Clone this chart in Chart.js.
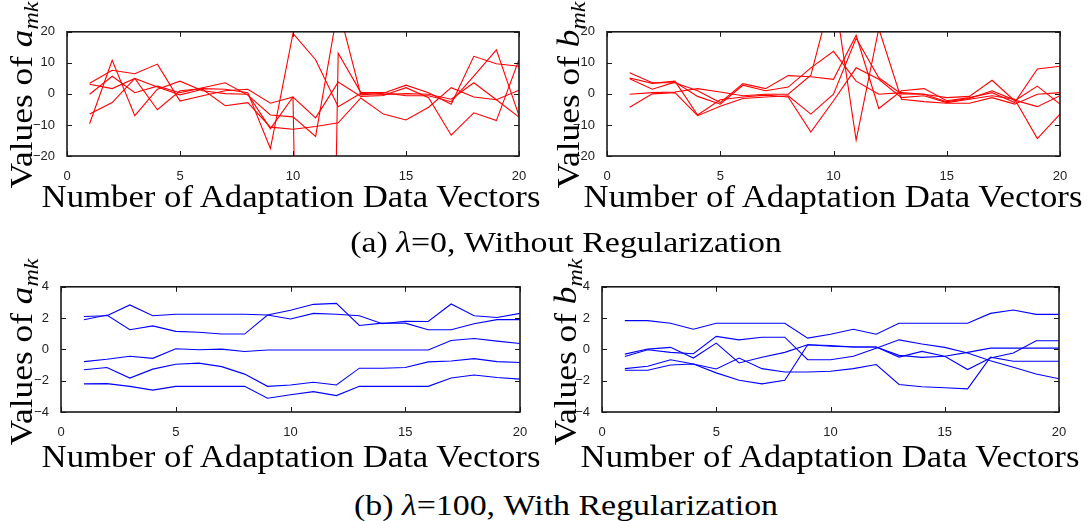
<!DOCTYPE html>
<html>
<head>
<meta charset="utf-8">
<script src="https://cdn.jsdelivr.net/npm/chart.js@4.4.0/dist/chart.umd.min.js"></script>
<style>
  body { margin: 0; background: #fff; width: 1090px; height: 521px; position: relative; overflow: hidden; }
  canvas { position: absolute; }
  .txt { position: absolute; font-family: "Liberation Serif", "Times New Roman", serif; white-space: nowrap; color: #000; line-height: 1; }
  .ytitle { font-size: 31px; transform: translate(-50%, -50%) rotate(-90deg) scale(1.14, 1); }
  .xtitle { font-size: 31px; transform: translate(-50%, -50%) scale(1.12, 1); }
  .caption { font-size: 30px; transform: translate(-50%, -50%) scale(1.13, 1); }
  sub { font-size: 0.68em; vertical-align: -0.3em; line-height: 0; }
</style>
</head>
<body>
<canvas id="aFree"></canvas>
<canvas id="bFree"></canvas>
<canvas id="aReg"></canvas>
<canvas id="bReg"></canvas>

<div class="txt ytitle" style="left:21px; top:95px">Values of <i>a</i><sub><i>mk</i></sub></div>
<div class="txt ytitle" style="left:568px; top:95px">Values of <i>b</i><sub><i>mk</i></sub></div>
<div class="txt ytitle" style="left:21px; top:352px">Values of <i>a</i><sub><i>mk</i></sub></div>
<div class="txt ytitle" style="left:565px; top:352px">Values of <i>b</i><sub><i>mk</i></sub></div>

<div class="txt xtitle" style="left:291px; top:196px">Number of Adaptation Data Vectors</div>
<div class="txt xtitle" style="left:833px; top:196px">Number of Adaptation Data Vectors</div>
<div class="txt xtitle" style="left:291px; top:456px">Number of Adaptation Data Vectors</div>
<div class="txt xtitle" style="left:830px; top:456px">Number of Adaptation Data Vectors</div>

<div class="txt caption" style="left:566px; top:242px">(a) <i>λ</i>=0, Without Regularization</div>
<div class="txt caption" style="left:566px; top:505px">(b) <i>λ</i>=100, With Regularization</div>

<script>
// x axis: number of adaptation data vectors
const vectors = [1, 2, 3, 4, 5, 6, 7, 8, 9, 10, 11, 12, 13, 14, 15, 16, 17, 18, 19, 20];

// (a) lambda = 0, a_mk (values off the chart are real, the axis clips them)
const aFree = [
  [3.4, 7.6, 6.5, 9.6, -2.3, -0.6, 1.0, 1.5, -3.0, -1.0, -400, 13.1, 0.5, 0.4, -0.6, -0.6, -2.5, 5.7, 14.2, -7.0],
  [-9.6, 10.8, -7.0, 1.5, 4.1, 1.0, 0.1, -0.1, -11.2, -1.0, -7.7, 3.8, -0.8, -0.5, 2.0, -1.2, -13.3, -6.1, -8.6, 11.0],
  [3.1, 1.7, 5.0, -5.1, 1.0, 1.7, 1.5, 0.4, -17.6, 19.5, 11.0, -4.1, 0.2, -0.2, 0.1, -0.1, -1.7, 3.6, -1.9, -7.5],
  [-0.1, 5.7, 0.4, 2.5, 0.4, 2.0, 3.6, -0.4, -6.8, -7.4, -13.7, 28, -0.3, 0.2, 2.8, 0.4, -3.3, 12.1, 9.7, 8.9],
  [-6.5, -2.8, 5.0, 2.2, -0.3, 1.5, -3.8, -2.8, -10.7, -11.4, -10.5, -9.3, -1.3, -6.5, -8.4, -4.3, 2.0, -1.0, -1.9, 1.2]
];

// (a) lambda = 0, b_mk
const bFree = [
  [6.8, 3.6, 3.6, 1.0, -2.8, 3.3, 1.7, 5.9, 5.5, 4.7, 18.9, -4.7, 1.0, 1.7, -2.2, -1.2, 0.4, -2.8, 8.0, 8.9],
  [5.1, 3.4, 4.1, -6.8, -1.9, -1.0, -0.4, -1.0, -12.3, -2.2, 8.4, 4.7, -1.2, -0.6, -2.8, -1.7, -0.6, -1.7, -14.4, -6.5],
  [4.9, 1.5, 3.8, -0.8, -3.3, 2.8, 1.0, 2.2, 8.4, 13.7, 4.1, -0.1, 0.4, -0.1, -1.2, -0.8, 4.4, -2.2, 2.5, -3.3],
  [-0.1, 0.4, 0.6, 1.7, 0.6, -0.6, -0.1, -0.1, 6.0, 34, -14.9, 21, -1.7, -2.5, -3.0, -3.0, -1.2, -3.3, -0.1, 0.4],
  [-4.3, 0.0, 0.4, -7.0, -4.0, -1.5, -1.0, -0.6, -6.5, -0.1, 17.9, 5.2, 0.0, -0.1, -2.5, -1.5, 1.0, -2.0, -4.1, -0.6]
];

// (b) lambda = 100, a_mk
const aReg = [
  [2.1, 2.15, 2.84, 2.15, 2.25, 2.25, 2.25, 2.25, 2.2, 1.94, 2.3, 2.25, 2.15, 1.64, 1.8, 1.78, 2.9, 2.15, 2.04, 2.3],
  [1.9, 2.2, 1.26, 1.5, 1.15, 1.1, 0.98, 0.98, 2.2, 2.5, 2.88, 2.94, 1.53, 1.68, 1.68, 1.26, 1.26, 1.64, 1.9, 1.9],
  [-0.78, -0.63, -0.44, -0.57, 0.04, -0.02, 0.02, -0.13, -0.04, -0.04, -0.04, -0.04, -0.04, -0.04, -0.04, -0.04, 0.57, 0.7, 0.53, 0.38],
  [-1.3, -1.16, -1.83, -1.26, -0.95, -0.88, -1.1, -1.58, -2.36, -2.27, -2.1, -2.27, -1.2, -1.2, -1.16, -0.8, -0.74, -0.59, -0.78, -0.84],
  [-2.2, -2.19, -2.36, -2.6, -2.36, -2.36, -2.36, -2.36, -3.12, -2.9, -2.7, -2.95, -2.36, -2.36, -2.36, -2.36, -1.83, -1.64, -1.8, -1.9]
];

// (b) lambda = 100, b_mk
const bReg = [
  [1.84, 1.84, 1.67, 1.29, 1.67, 1.67, 1.67, 1.67, 0.72, 0.97, 1.29, 0.97, 1.67, 1.67, 1.67, 1.67, 2.3, 2.52, 2.24, 2.24],
  [-0.3, 0.02, 0.13, -0.55, 0.4, -0.87, -0.5, -0.19, 0.3, 0.25, 0.15, 0.15, -0.49, -0.13, -0.44, -1.29, -0.55, -0.23, 0.55, 0.55],
  [-0.45, -0.02, -0.19, -0.28, 0.83, 0.61, 0.78, 0.78, -0.66, -0.66, -0.44, 0.08, 0.61, 0.34, 0.13, -0.23, -0.72, -1.14, -1.57, -1.88],
  [-1.23, -1.08, -0.66, -0.93, -1.25, -0.55, -1.23, -1.44, -1.44, -1.4, -1.23, -0.97, -2.24, -2.39, -2.45, -2.52, -0.5, -0.76, -0.76, -0.76],
  [-1.33, -1.33, -1.0, -0.93, -1.5, -1.97, -2.2, -1.97, 0.3, 0.2, 0.15, 0.15, -0.38, -0.51, -0.44, -0.19, 0.08, 0.08, 0.08, 0.08]
];

const xTicks = [0, 5, 10, 15, 20];

// MATLAB style box with inward ticks
const boxFrame = {
  id: 'boxFrame',
  afterDraw(chart) {
    const { ctx, chartArea: a, scales } = chart;
    ctx.save();
    ctx.strokeStyle = '#1a1a1a';
    ctx.lineWidth = 1;
    ctx.beginPath();
    scales.x.ticks.forEach(t => {
      const px = Math.round(scales.x.getPixelForValue(t.value)) + 0.5;
      ctx.moveTo(px, a.bottom); ctx.lineTo(px, a.bottom - 5);
      ctx.moveTo(px, a.top); ctx.lineTo(px, a.top + 5);
    });
    scales.y.ticks.forEach(t => {
      const py = Math.round(scales.y.getPixelForValue(t.value)) + 0.5;
      ctx.moveTo(a.left, py); ctx.lineTo(a.left + 5, py);
      ctx.moveTo(a.right, py); ctx.lineTo(a.right - 5, py);
    });
    ctx.stroke();
    ctx.lineWidth = 1.6;
    ctx.strokeRect(a.left, a.top, a.right - a.left, a.bottom - a.top);
    ctx.restore();
  }
};

function minusSign(v) {
  return String(v).replace('-', '\u2212');
}

function drawPanel(id, series, color, yMin, yMax, yStep, box) {
  const canvas = document.getElementById(id);
  const padL = 40, padT = 10, padR = 22, padB = 24;
  const w = box.right - box.left, h = box.bottom - box.top;
  canvas.width = w + padL + padR;
  canvas.height = h + padT + padB;
  canvas.style.left = (box.left - padL) + 'px';
  canvas.style.top = (box.top - padT) + 'px';
  canvas.style.width = canvas.width + 'px';
  canvas.style.height = canvas.height + 'px';

  new Chart(canvas, {
    type: 'line',
    data: {
      datasets: series.map(s => ({
        data: vectors.map((x, i) => ({ x: x, y: s[i] })),
        borderColor: color,
        borderWidth: 1.1,
        pointRadius: 0,
        tension: 0,
        fill: false
      }))
    },
    options: {
      responsive: false,
      animation: false,
      layout: { padding: { left: 0, top: padT, right: padR, bottom: 0 } },
      plugins: { legend: { display: false }, tooltip: { enabled: false } },
      scales: {
        x: {
          type: 'linear', min: 0, max: 20,
          afterBuildTicks: s => { s.ticks = xTicks.map(v => ({ value: v })); },
          afterFit: s => { s.height = padB; },
          grid: { display: false }, border: { display: false },
          ticks: { color: '#222', padding: 5, font: { family: 'Liberation Sans', size: 13 }, maxRotation: 0 }
        },
        y: {
          min: yMin, max: yMax,
          afterFit: s => { s.width = padL; },
          grid: { display: false }, border: { display: false },
          ticks: { stepSize: yStep, color: '#222', padding: 4, font: { family: 'Liberation Sans', size: 13 }, callback: minusSign }
        }
      }
    },
    plugins: [boxFrame]
  });
}

drawPanel('aFree', aFree, '#ff0000', -20, 20, 10, { left: 67, right: 519, top: 30, bottom: 156 });
drawPanel('bFree', bFree, '#ff0000', -20, 20, 10, { left: 607, right: 1060, top: 30, bottom: 156 });
drawPanel('aReg', aReg, '#0000ff', -4, 4, 2, { left: 61, right: 520, top: 285, bottom: 412 });
drawPanel('bReg', bReg, '#0000ff', -4, 4, 2, { left: 602, right: 1059, top: 285, bottom: 412 });
</script>
</body>
</html>
